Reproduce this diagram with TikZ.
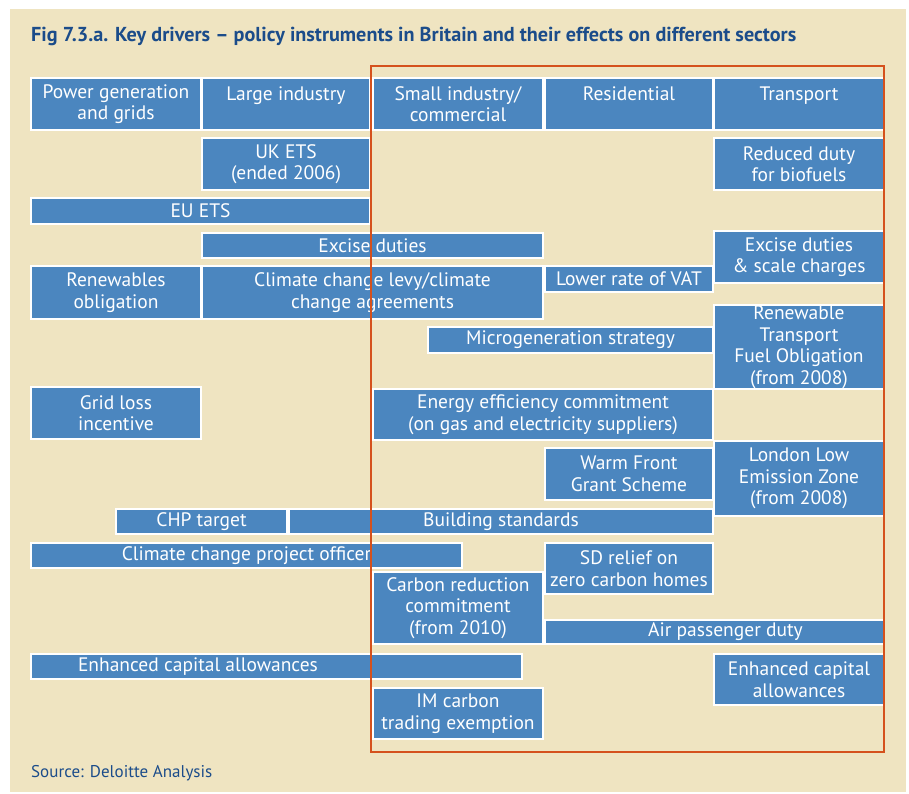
\documentclass[tikz,border=0pt]{standalone}
\usepackage{fontspec}
\setmainfont{PT Sans}
\definecolor{polblue}{HTML}{4B86BF}
\definecolor{polbeige}{HTML}{EFE4C1}
\definecolor{polorange}{HTML}{D5511D}
\definecolor{poltitle}{HTML}{1B4C8A}
\newcommand{\cellfont}{\fontsize{19.5}{21.5}\selectfont}
\begin{document}
\begin{tikzpicture}[x=1pt, y=-1pt,
  cell/.style 2 args={rectangle, draw=white, line width=1.5pt, fill=polblue, text=white,
    align=center, inner sep=0pt, minimum width=#1pt, minimum height=#2pt, font=\cellfont},
  frame/.style={draw=polorange, line width=2.2pt}
]
\useasboundingbox (0,0) rectangle (909,794);
\fill[white] (0,0) rectangle (909,794);
\fill[polbeige] (10,9) rectangle (906,792);
\node[anchor=base west, inner sep=0pt, text=poltitle, font=\fontsize{20.2}{24}\selectfont\bfseries] (title) at (31,42)
  {Fig 7.3.a. Key drivers -- policy instruments in Britain and their effects on different sectors};
\node[cell={170}{52}] (power) at (116,104) {Power generation\\and grids};
\node[cell={168}{52}] (large) at (286,104) {Large industry\\\mbox{}};
\node[cell={170}{52}] (small) at (458,104) {Small industry/\\commercial};
\node[cell={168}{52}] (resid) at (629,104) {Residential\\\mbox{}};
\node[cell={170}{52}] (transp) at (799,104) {Transport\\\mbox{}};
\node[cell={168}{52}] (ukets) at (286,164) {UK ETS\\(ended 2006)};
\node[cell={170}{52}] (biofuel) at (799,164) {Reduced duty\\for biofuels};
\node[cell={339}{26}] (euets) at (200.5,211) {EU ETS};
\node[cell={341}{25}] (excise) at (372.5,245.5) {Excise duties};
\node[cell={170}{52}] (excisesc) at (799,257) {Excise duties\\\& scale charges};
\node[cell={170}{53}] (renob) at (116,292.5) {Renewables\\obligation};
\node[cell={341}{53}] (ccl) at (372.5,292.5) {Climate change levy/climate\\change agreements};
\node[cell={168}{26}] (vat) at (629,279) {Lower rate of VAT};
\node[cell={285}{26}] (microgen) at (570.5,340) {Microgeneration strategy};
\node[cell={170}{84}] (rtfo) at (799,347) {Renewable\\Transport\\Fuel Obligation\\(from 2008)};
\node[cell={170}{52}] (gridloss) at (116,413) {Grid loss\\incentive};
\node[cell={340}{51}] (eec) at (543,414.5) {Energy efficiency commitment\\(on gas and electricity suppliers)};
\node[cell={168}{52}] (warm) at (629,474) {Warm Front\\Grant Scheme};
\node[cell={170}{75}] (lez) at (799,478.5) {London Low\\Emission Zone\\(from 2008)};
\node[cell={171}{25}] (chp) at (201.5,521.5) {CHP target};
\node[cell={424}{25}] (build) at (501,521.5) {Building standards};
\node[cell={431}{25}] (ccpo) at (246.5,555.5) {Climate change project officer};
\node[cell={168}{51}] (sdrelief) at (629,568.5) {SD relief on\\zero carbon homes};
\node[cell={170}{72}] (crc) at (458,608) {Carbon reduction\\commitment\\(from 2010)};
\node[cell={339}{24}] (apd) at (714.5,632) {\hspace*{22pt}Air passenger duty};
\node[cell={491}{25}] (ecaleft) at (276.5,666.5) {\makebox[491pt][l]{\hspace{47pt}Enhanced capital allowances}};
\node[cell={170}{51}] (ecaright) at (799,679.5) {Enhanced capital\\allowances};
\node[cell={170}{51}] (imcarbon) at (458,713.5) {IM carbon\\trading exemption};
\draw[frame] (371,66) rectangle (884,752);
\node[anchor=base west, inner sep=0pt, text=poltitle, font=\fontsize{17}{20}\selectfont] (source) at (31,777) {Source: Deloitte Analysis};
\end{tikzpicture}
\end{document}
